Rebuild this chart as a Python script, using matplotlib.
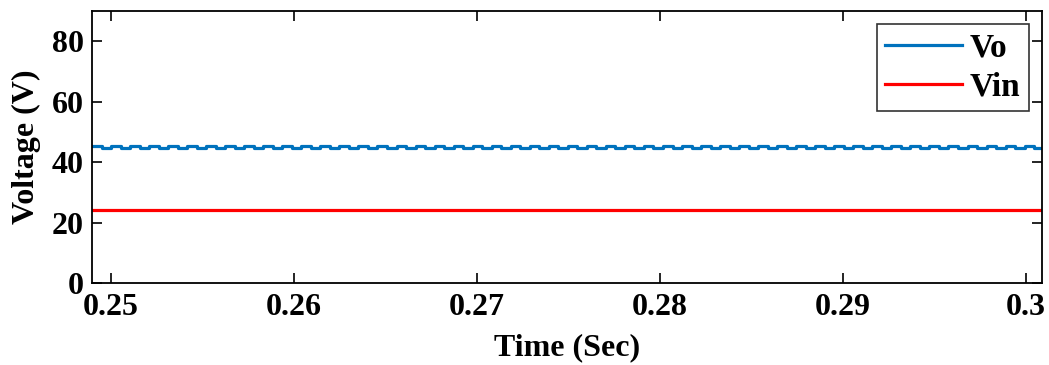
import numpy as np
import matplotlib.pyplot as plt

# Data
t_start, t_end = 0.24896, 0.30087
ripple_period = 0.00104
vo_cycle = [45.4, 44.6]          # Vo square ripple levels (V)
vin_level = 24.0                 # Vin (V)
yticks = [0, 20, 40, 60, 80]
xticks = [0.25, 0.26, 0.27, 0.28, 0.29, 0.3]
xticklabels = ['0.25', '0.26', '0.27', '0.28', '0.29', '0.3']

plt.rcParams['font.family'] = ['Liberation Serif', 'DejaVu Serif']
plt.rcParams['font.weight'] = 'bold'

# step series for Vo: each half period holds one level
n_half = int((t_end - t_start) / (ripple_period / 2)) + 2
t_vo = t_start + np.arange(n_half) * ripple_period / 2
v_vo = np.tile(vo_cycle, n_half // 2 + 1)[:n_half]
t_in = [t_start, t_end]
v_in = [vin_level, vin_level]

fig = plt.figure(figsize=(10.49, 3.65), dpi=100)
ax = fig.add_axes([92 / 1049, 1 - 283 / 365, (1042 - 92) / 1049, (283 - 11) / 365])
ax.step(t_vo, v_vo, where='post', color='#0072BD', lw=2.3, label='Vo')
ax.plot(t_in, v_in, color='#FF0000', lw=2.3, label='Vin')

ax.set_xlim(t_start, t_end)
ax.set_ylim(0, 90)
ax.set_yticks(yticks)
ax.set_xticks(xticks)
ax.set_xticklabels(xticklabels)
ax.tick_params(direction='in', top=True, right=True, length=7, width=1.2,
               labelsize=23)
ax.tick_params(axis='x', pad=7)
ax.tick_params(axis='y', pad=6)
for s in ax.spines.values():
    s.set_linewidth(1.3)
ax.set_xlabel('Time (Sec)', fontsize=23, fontweight='bold', labelpad=8)
ax.set_ylabel('Voltage (V)', fontsize=23, fontweight='bold', labelpad=8)

leg = ax.legend(loc='upper right', fontsize=24, frameon=True, fancybox=False,
                edgecolor='black', handlelength=2.3, borderaxespad=0.39,
                labelspacing=0.25, handletextpad=0.25, borderpad=0.25)
leg.get_frame().set_linewidth(1.2)
for txt in leg.get_texts():
    txt.set_fontweight('bold')

fig.savefig('out.png', dpi=100)
